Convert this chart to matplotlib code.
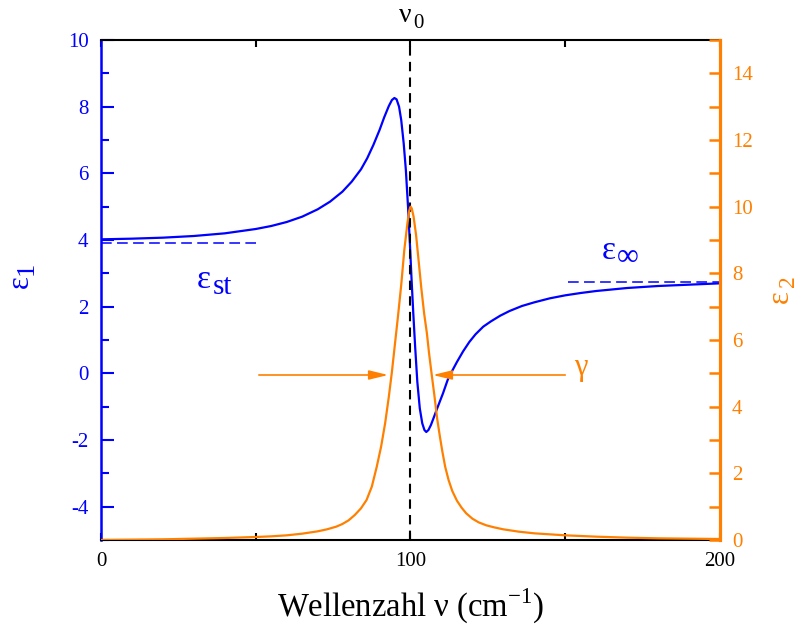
import matplotlib
matplotlib.use("Agg")
import matplotlib.pyplot as plt

# ------------------------------
# Data
# ------------------------------
nu_eps1 = [0, 10, 20, 30, 40, 50, 55, 60, 65, 70, 74, 78, 81, 84, 86, 88, 90,
           91.5, 93, 94, 94.8, 95.5, 96.3, 97, 97.8, 98.5, 99.2, 99.8, 100.3,
           100.9, 101.5, 102.2, 103, 103.8, 104.5, 105.1, 105.8, 106.6, 107.5,
           108.5, 109.5, 110.5, 112, 113.5, 115, 117, 119, 121, 123.5, 126, 129,
           132, 136, 140, 145, 150, 155, 160, 170, 180, 190, 200]
eps1 = [4.02, 4.04, 4.07, 4.12, 4.20, 4.33, 4.42, 4.54, 4.70, 4.92, 5.15, 5.45,
        5.75, 6.12, 6.45, 6.85, 7.3, 7.68, 8.02, 8.2, 8.26, 8.22, 8.0, 7.6, 6.9,
        6.1, 5.0, 3.9, 2.9, 1.8, 0.8, -0.25, -1.05, -1.5, -1.7, -1.76, -1.7,
        -1.55, -1.33, -1.08, -0.84, -0.6, -0.2, 0.08, 0.34, 0.66, 0.94, 1.17,
        1.4, 1.56, 1.73, 1.87, 2.02, 2.13, 2.25, 2.34, 2.41, 2.47, 2.56, 2.62,
        2.66, 2.70]

nu_eps2 = [0, 10, 20, 30, 40, 50, 55, 60, 65, 70, 73, 76, 78, 80, 82, 84, 85.8,
           87.5, 89.1, 90.5, 91.8, 93, 94, 95, 96, 97, 98, 99, 99.6, 100, 100.4,
           101, 101.8, 102.6, 103.5, 104.4, 105.3, 106, 106.8, 107.7, 108.6,
           109.5, 110.3, 111.2, 112.3, 113.5, 115, 116.5, 118, 120, 122, 124.5,
           127, 130, 135, 140, 145, 150, 160, 170, 180, 190, 200]
eps2 = [0.0, 0.01, 0.02, 0.04, 0.06, 0.09, 0.11, 0.14, 0.19, 0.26, 0.32, 0.4,
        0.48, 0.59, 0.75, 0.95, 1.2, 1.6, 2.2, 2.8, 3.5, 4.3, 5.05, 5.9, 6.75,
        7.65, 8.7, 9.5, 9.88, 10.0, 9.95, 9.7, 9.15, 8.4, 7.55, 6.8, 6.2, 5.6,
        5.0, 4.35, 3.65, 3.1, 2.65, 2.2, 1.8, 1.47, 1.18, 0.97, 0.8, 0.64, 0.53,
        0.44, 0.38, 0.32, 0.25, 0.2, 0.17, 0.14, 0.1, 0.07, 0.05, 0.04, 0.03]

nu0 = 100
eps_st, eps_st_range = 3.92, [0, 50]
eps_inf, eps_inf_range = 2.75, [151, 200]
half_max = 4.95
gamma_left = [51, 92.8]
gamma_right = [150, 107.2]

blue = "#0000ff"
orange = "#ff8000"

plt.rcParams["font.family"] = ["Liberation Serif", "DejaVu Serif"]
plt.rcParams["mathtext.fontset"] = "custom"
plt.rcParams["mathtext.rm"] = "Liberation Serif"
plt.rcParams["axes.unicode_minus"] = False

fig = plt.figure(figsize=(8.03, 6.28), dpi=100)
ax = fig.add_axes([101 / 803, 88 / 628, 619 / 803, 500 / 628])
ax2 = ax.twinx()

# curves
ax.plot(nu_eps1, eps1, color=blue, lw=1.6)
ax2.plot(nu_eps2, eps2, color=orange, lw=1.6)

ax.plot(eps_st_range, [eps_st] * 2, color=blue, lw=1.1, ls=(0, (7, 3.5)))
ax.plot(eps_inf_range, [eps_inf] * 2, color=blue, lw=1.1, ls=(0, (7, 3.5)))
ax.axvline(nu0, color="black", lw=1.5, ls=(0, (4.5, 3)), zorder=5)

# gamma arrows
arrow = dict(arrowstyle="-|>,head_length=1.15,head_width=0.28", color=orange,
             lw=1.2, mutation_scale=10, shrinkA=0, shrinkB=0)
ax2.annotate("", xy=(gamma_left[1], half_max), xytext=(gamma_left[0], half_max),
             arrowprops=arrow)
ax2.annotate("", xy=(gamma_right[1], half_max), xytext=(gamma_right[0], half_max),
             arrowprops=arrow)

# axes setup
ax.set_xlim(0, 200)
ax.set_ylim(-5, 10)
ax2.set_ylim(0, 15)
ax.set_xticks([0, 100, 200])
ax.set_xticks([50, 150], minor=True)
ax.set_yticks(range(-4, 11, 2))
ax.set_yticks(range(-5, 11), minor=True)
ax2.set_yticks(range(0, 15, 2))
ax2.set_yticks(range(1, 16, 2), minor=True)

ax.tick_params(axis="x", which="both", direction="in", top=True, length=5,
               width=1.5, color="black", labelsize=15, pad=9)
ax.tick_params(axis="y", which="major", direction="in", length=9, width=1.5,
               color=blue, labelcolor=blue, labelsize=15, pad=9)
ax.tick_params(axis="y", which="minor", direction="in", length=5.5, width=1.5,
               color=blue)
ax2.tick_params(axis="y", which="both", direction="in", length=8, width=1.8,
                color=orange, labelcolor=orange, labelsize=15, pad=8.5)

for s in ["top", "bottom"]:
    ax.spines[s].set_linewidth(1.5)
ax.spines["left"].set_color(blue)
ax.spines["left"].set_linewidth(1.8)
ax.spines["right"].set_visible(False)
for s in ["top", "bottom", "left"]:
    ax2.spines[s].set_visible(False)
ax2.spines["right"].set_color(orange)
ax2.spines["right"].set_linewidth(2.3)

# text labels (pixel positions converted to figure fraction)
W, H = 803, 628


def ftext(x, y, s, **kw):
    fig.text(x / W, 1 - y / H, s, ha="center", va="center", **kw)


ftext(20, 282, "ε", color=blue, fontsize=22, rotation=90)
ftext(26.5, 268, "1", color=blue, fontsize=19, rotation=90)
ftext(780, 297, "ε", color=orange, fontsize=22, rotation=90)
ftext(789, 281, "2", color=orange, fontsize=17, rotation=90)

ftext(204, 280, "ε", color=blue, fontsize=24)
ftext(222, 287, "st", color=blue, fontsize=21)
ftext(609, 251, "ε", color=blue, fontsize=24)
ftext(628, 258, "∞", color=blue, fontsize=22)
ftext(581, 368, "γ", color=orange, fontsize=22)

ftext(405, 16, "ν", color="black", fontsize=20)
ftext(418.5, 23, "0", color="black", fontsize=15)

ftext(411, 606, "Wellenzahl ν (cm$^{-1}$)", color="black", fontsize=23.5)

fig.savefig("out.png", dpi=100)
